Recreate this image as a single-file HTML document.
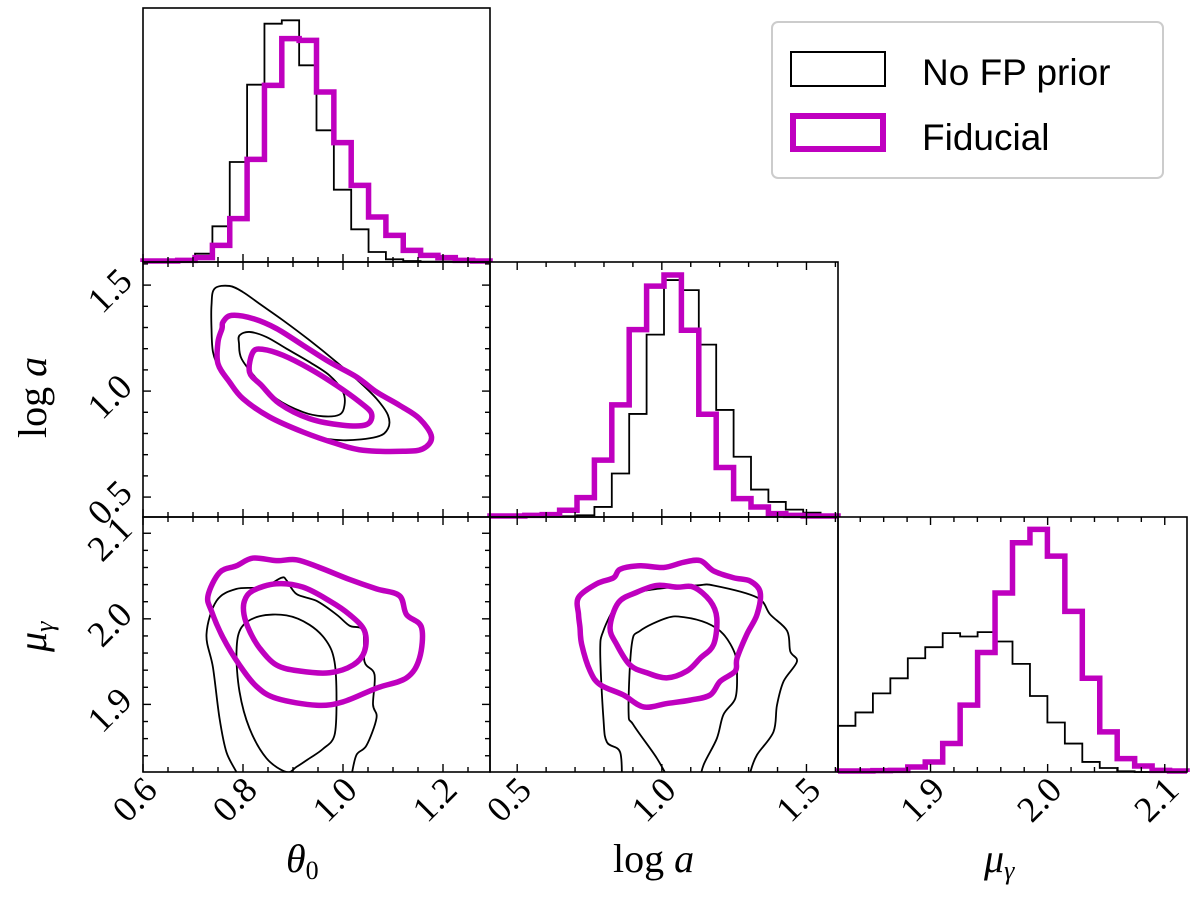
<!DOCTYPE html>
<html><head><meta charset="utf-8"><style>
html,body{margin:0;padding:0;background:#fff;}
svg{display:block;}
text{font-family:"Liberation Serif","DejaVu Serif",serif;fill:#000;}
</style></head><body>
<svg id="chart" width="1200" height="910" viewBox="0 0 1200 910" xmlns="http://www.w3.org/2000/svg">
<defs>
<clipPath id="c10"><rect x="143" y="262" width="347" height="255"/></clipPath>
<clipPath id="c20"><rect x="143" y="517" width="347" height="255"/></clipPath>
<clipPath id="c21"><rect x="490" y="517" width="348" height="255"/></clipPath>
</defs>
<g id="marks"></g>
<g id="axes"></g>
<g>
<rect x="772" y="22" width="391" height="156" rx="6" fill="#fff" stroke="#cccccc" stroke-width="2"/>
<rect x="791" y="52" width="94" height="34" fill="none" stroke="#000" stroke-width="2"/>
<text x="922" y="85" font-size="37" style="font-family:'Liberation Sans','DejaVu Sans',sans-serif">No FP prior</text>
<rect x="793" y="116" width="90" height="33" fill="none" stroke="#bf00bf" stroke-width="6"/>
<text x="922" y="150" font-size="37" style="font-family:'Liberation Sans','DejaVu Sans',sans-serif">Fiducial</text>
</g>
<text x="286" y="872" font-size="40" font-style="italic">θ<tspan font-size="26" dy="7" font-style="normal">0</tspan></text>
<text x="613" y="872" font-size="40">log <tspan font-style="italic">a</tspan></text>
<text x="984" y="872" font-size="40" font-style="italic">μ<tspan font-size="26" dy="7">γ</tspan></text>
<text transform="translate(46,438) rotate(-90)" font-size="40">log <tspan font-style="italic">a</tspan></text>
<text transform="translate(46,652) rotate(-90)" font-size="40" font-style="italic">μ<tspan font-size="26" dy="7">γ</tspan></text>
</svg>
<script>
// ---- data ----
const thetaDomain = [0.6, 1.294];
const logaDomain = [0.406, 1.609];
const muDomain = [1.821, 2.119];
const thetaTicks = [0.6, 0.8, 1.0, 1.2];
const thetaTickLabels = ["0.6", "0.8", "1.0", "1.2"];
const logaTicks = [0.5, 1.0, 1.5];
const logaTickLabels = ["0.5", "1.0", "1.5"];
const muTicks = [1.9, 2.0, 2.1];
const muTickLabels = ["1.9", "2.0", "2.1"];
const histMax = 762;
const histThetaNoFP = [2,3,5,25,107,300,532,715,725,590,395,217,98,30,8,3,1,1,0,0];
const histThetaFid = [3,3,5,13,50,130,308,530,670,665,510,358,230,135,80,35,20,13,5,3];
const histLogaNoFP = [2,2,2,2,2,5,30,130,308,545,708,678,515,320,180,82,45,22,13,5];
const histLogaFid = [3,3,5,7,20,58,170,335,560,690,723,558,307,148,55,30,10,5,3,3];
const histMuNoFP = [138,178,235,280,340,373,415,405,418,390,323,227,148,85,30,12,2,0,0,0];
const histMuFid = [3,3,4,5,15,30,85,200,357,535,685,725,645,480,280,120,40,18,5,3];
// contours: [x-values], [y-values]
const c10BlackOuterX = [0.743,0.773,0.8,0.833,0.88,0.933,0.987,1.033,1.067,1.09,1.09,1.067,1.0,0.933,0.867,0.813,0.78,0.753,0.74,0.737,0.737];
const c10BlackOuterY = [1.483,1.496,1.467,1.412,1.334,1.24,1.137,1.043,0.964,0.886,0.823,0.784,0.768,0.791,0.854,0.933,1.011,1.106,1.184,1.295,1.405];
const c10BlackInnerX = [0.793,0.813,0.847,0.887,0.933,0.973,1.0,1.003,0.993,0.96,0.92,0.867,0.827,0.797,0.792];
const c10BlackInnerY = [1.263,1.279,1.255,1.2,1.137,1.074,0.996,0.933,0.889,0.881,0.901,0.964,1.059,1.153,1.224];
const c10FidOuterX = [0.76,0.777,0.82,0.867,0.92,0.973,1.027,1.067,1.113,1.153,1.177,1.16,1.12,1.04,0.987,0.92,0.853,0.8,0.773,0.75,0.75,0.758];
const c10FidOuterY = [1.326,1.357,1.342,1.295,1.216,1.137,1.067,0.996,0.933,0.87,0.784,0.728,0.716,0.721,0.752,0.807,0.878,0.964,1.043,1.129,1.232,1.295];
const c10FidInnerX = [0.82,0.84,0.88,0.933,0.987,1.033,1.057,1.047,1.0,0.933,0.873,0.837,0.813];
const c10FidInnerY = [1.184,1.197,1.169,1.106,1.027,0.949,0.894,0.842,0.839,0.87,0.941,1.027,1.09];
const c20BlackOuterX = [0.79,0.79,0.767,0.753,0.74,0.727,0.747,0.787,0.84,0.877,0.887,0.907,0.947,0.987,1.013,1.04,1.043,1.063,1.06,1.067,1.047,1.027,1.017,1.013];
const c20BlackOuterY = [1.805,1.817,1.844,1.884,1.943,1.982,2.021,2.035,2.037,2.048,2.045,2.029,2.021,2.005,1.992,1.986,1.95,1.935,1.9,1.884,1.852,1.841,1.817,1.805];
const c20BlackInnerX = [0.887,0.847,0.813,0.793,0.787,0.797,0.833,0.887,0.933,0.967,0.983,0.987,0.983,0.96,0.933,0.907];
const c20BlackInnerY = [1.821,1.837,1.872,1.915,1.962,1.99,2.003,2.004,1.993,1.974,1.95,1.907,1.864,1.848,1.837,1.827];
const c20FidOuterX = [0.73,0.753,0.787,0.82,0.867,0.907,0.953,1.013,1.067,1.113,1.127,1.157,1.153,1.127,1.067,1.0,0.947,0.867,0.827,0.793,0.76,0.737];
const c20FidOuterY = [2.027,2.054,2.062,2.071,2.068,2.069,2.06,2.046,2.035,2.027,2.005,1.99,1.954,1.931,1.919,1.903,1.899,1.907,1.921,1.946,1.978,2.009];
const c20FidInnerX = [0.803,0.82,0.867,0.92,0.973,1.013,1.043,1.043,1.02,0.973,0.913,0.867,0.833,0.813,0.802];
const c20FidInnerY = [2.021,2.033,2.041,2.037,2.021,2.005,1.986,1.962,1.946,1.937,1.939,1.946,1.966,1.986,2.005];
const c21BlackOuterX = [0.862,0.856,0.81,0.798,0.787,0.798,0.844,0.89,0.983,1.121,1.179,1.329,1.375,1.433,1.444,1.467,1.421,1.398,1.386,1.329,1.306,1.3];
const c21BlackOuterY = [1.805,1.844,1.856,1.884,1.962,1.986,2.017,2.029,2.035,2.039,2.039,2.025,2.005,1.986,1.962,1.95,1.927,1.899,1.868,1.841,1.821,1.805];
const c21BlackInnerX = [1.035,0.983,0.902,0.885,0.896,0.925,1.017,1.075,1.156,1.213,1.254,1.26,1.254,1.213,1.19,1.144,1.127];
const c21BlackInnerY = [1.805,1.837,1.876,1.892,1.97,1.986,2.001,2.002,1.995,1.982,1.958,1.935,1.907,1.888,1.86,1.829,1.805];
const c21FidOuterX = [0.712,0.775,0.833,0.856,0.925,1.006,1.075,1.133,1.179,1.248,1.306,1.34,1.329,1.294,1.26,1.254,1.202,1.167,1.098,1.017,0.937,0.867,0.787,0.752,0.723,0.717,0.712];
const c21FidOuterY = [2.025,2.041,2.048,2.058,2.062,2.06,2.066,2.068,2.056,2.048,2.044,2.031,2.005,1.982,1.954,1.939,1.927,1.911,1.905,1.901,1.897,1.911,1.923,1.939,1.97,1.99,2.005];
const c21FidInnerX = [0.85,0.913,0.983,1.052,1.11,1.167,1.19,1.179,1.133,1.087,1.017,0.948,0.89,0.844,0.821];
const c21FidInnerY = [2.019,2.031,2.039,2.037,2.037,2.021,2.001,1.97,1.954,1.939,1.931,1.937,1.946,1.97,1.99];

// ---- helpers ----
const NS = "http://www.w3.org/2000/svg";
const marks = document.getElementById('marks');
const axesG = document.getElementById('axes');
function scale(d, r){ return v => r[0] + (v - d[0]) / (d[1] - d[0]) * (r[1] - r[0]); }
const PX = [[143,490],[490,838],[838,1187]];
const PY = [[8,262],[262,517],[517,772]];
const sxTheta = scale(thetaDomain, PX[0]);
const sxLoga = scale(logaDomain, PX[1]);
const sxMu = scale(muDomain, PX[2]);
const syLoga = scale(logaDomain, [PY[1][1], PY[1][0]]);
const syMu = scale(muDomain, [PY[2][1], PY[2][0]]);
function mk(tag, attrs, parent){ const e = document.createElementNS(NS, tag); for (const k in attrs) e.setAttribute(k, attrs[k]); (parent||marks).appendChild(e); return e; }

function hist(vals, domain, sx, row, color, w, name){
  const y0 = PY[row][1], h = PY[row][1]-PY[row][0];
  const n = vals.length, bw = (domain[1]-domain[0])/n;
  let d = `M${sx(domain[0])},${y0}`;
  vals.forEach((v,i)=>{ const y = y0 - v/histMax*h; d += ` L${sx(domain[0]+i*bw)},${y} L${sx(domain[0]+(i+1)*bw)},${y}`; });
  d += ` L${sx(domain[1])},${y0}`;
  const p = mk('path', {d, fill:'none', stroke:color, 'stroke-width':w, 'stroke-linejoin':'miter'});
  
  
}
function smooth(xs, ys, sx, sy, closed){
  const pts = xs.map((x,i)=>[sx(x), sy(ys[i])]);
  const n = pts.length;
  const get = i => closed ? pts[(i+n)%n] : pts[Math.max(0, Math.min(n-1, i))];
  let d = `M${pts[0][0]},${pts[0][1]}`;
  const last = closed ? n : n-1;
  for (let i=0;i<last;i++){
    const p0=get(i-1), p1=get(i), p2=get(i+1), p3=get(i+2);
    const c1=[p1[0]+(p2[0]-p0[0])/6, p1[1]+(p2[1]-p0[1])/6];
    const c2=[p2[0]-(p3[0]-p1[0])/6, p2[1]-(p3[1]-p1[1])/6];
    d += ` C${c1[0]},${c1[1]} ${c2[0]},${c2[1]} ${p2[0]},${p2[1]}`;
  }
  if (closed) d += ' Z';
  return d;
}
function contour(xs, ys, sx, sy, closed, clip, color, w, name){
  const p = mk('path', {d: smooth(xs, ys, sx, sy, closed), fill:'none', stroke:color, 'stroke-width':w, 'clip-path':`url(#${clip})`});
  
  
}
const BK = '#000', MG = '#bf00bf';
hist(histThetaNoFP, thetaDomain, sxTheta, 0, BK, 1.8, 'hist-theta0-no-fp-prior');
hist(histThetaFid, thetaDomain, sxTheta, 0, MG, 5.5, 'hist-theta0-fiducial');
hist(histLogaNoFP, logaDomain, sxLoga, 1, BK, 1.8, 'hist-log-a-no-fp-prior');
hist(histLogaFid, logaDomain, sxLoga, 1, MG, 5.5, 'hist-log-a-fiducial');
hist(histMuNoFP, muDomain, sxMu, 2, BK, 1.8, 'hist-mu-gamma-no-fp-prior');
hist(histMuFid, muDomain, sxMu, 2, MG, 5.5, 'hist-mu-gamma-fiducial');
contour(c10BlackOuterX, c10BlackOuterY, sxTheta, syLoga, true, 'c10', BK, 1.8, 'contour-theta0-loga-no-fp-outer');
contour(c10BlackInnerX, c10BlackInnerY, sxTheta, syLoga, true, 'c10', BK, 1.8, 'contour-theta0-loga-no-fp-inner');
contour(c10FidOuterX, c10FidOuterY, sxTheta, syLoga, true, 'c10', MG, 5.5, 'contour-theta0-loga-fiducial-outer');
contour(c10FidInnerX, c10FidInnerY, sxTheta, syLoga, true, 'c10', MG, 5.5, 'contour-theta0-loga-fiducial-inner');
contour(c20BlackOuterX, c20BlackOuterY, sxTheta, syMu, false, 'c20', BK, 1.8, 'contour-theta0-mu-no-fp-outer');
contour(c20BlackInnerX, c20BlackInnerY, sxTheta, syMu, true, 'c20', BK, 1.8, 'contour-theta0-mu-no-fp-inner');
contour(c20FidOuterX, c20FidOuterY, sxTheta, syMu, true, 'c20', MG, 5.5, 'contour-theta0-mu-fiducial-outer');
contour(c20FidInnerX, c20FidInnerY, sxTheta, syMu, true, 'c20', MG, 5.5, 'contour-theta0-mu-fiducial-inner');
contour(c21BlackOuterX, c21BlackOuterY, sxLoga, syMu, false, 'c21', BK, 1.8, 'contour-loga-mu-no-fp-outer');
contour(c21BlackInnerX, c21BlackInnerY, sxLoga, syMu, false, 'c21', BK, 1.8, 'contour-loga-mu-no-fp-inner');
contour(c21FidOuterX, c21FidOuterY, sxLoga, syMu, true, 'c21', MG, 5.5, 'contour-loga-mu-fiducial-outer');
contour(c21FidInnerX, c21FidInnerY, sxLoga, syMu, true, 'c21', MG, 5.5, 'contour-loga-mu-fiducial-inner');

// ---- axes ----
function frame(c, r){
  const e = mk('rect', {x:PX[c][0], y:PY[r][0], width:PX[c][1]-PX[c][0], height:PY[r][1]-PY[r][0], fill:'none', stroke:'#000', 'stroke-width':1.6}, axesG);
  
  
}
function range(a,b,step){ const o=[]; for(let v=a; v<=b+1e-9; v+=step) o.push(+v.toFixed(4)); return o; }
function xticks(c, r, sx, domain, minorStep, majors){
  const yb = PY[r][1], yt = PY[r][0];
  range(Math.ceil(domain[0]/minorStep)*minorStep, domain[1], minorStep).forEach(v=>{
    const x = sx(v); const major = majors.some(m=>Math.abs(m-v)<1e-6); const L = major?8:5;
    mk('line', {x1:x, x2:x, y1:yb, y2:yb-L, stroke:'#000', 'stroke-width':1.4}, axesG);
    if (r>0) mk('line', {x1:x, x2:x, y1:yt, y2:yt+L, stroke:'#000', 'stroke-width':1.4}, axesG);
  });
}
function yticks(c, r, sy, domain, minorStep, majors){
  const xl = PX[c][0], xr = PX[c][1];
  range(Math.ceil(domain[0]/minorStep)*minorStep, domain[1], minorStep).forEach(v=>{
    const y = sy(v); const major = majors.some(m=>Math.abs(m-v)<1e-6); const L = major?8:5;
    mk('line', {x1:xl, x2:xl+L, y1:y, y2:y, stroke:'#000', 'stroke-width':1.4}, axesG);
    mk('line', {x1:xr, x2:xr-L, y1:y, y2:y, stroke:'#000', 'stroke-width':1.4}, axesG);
  });
}
[[0,0],[0,1],[1,1],[0,2],[1,2],[2,2]].forEach(([c,r])=>frame(c,r));
xticks(0,0,sxTheta,thetaDomain,0.05,thetaTicks);
xticks(0,1,sxTheta,thetaDomain,0.05,thetaTicks);
xticks(0,2,sxTheta,thetaDomain,0.05,thetaTicks);
xticks(1,1,sxLoga,logaDomain,0.1,logaTicks);
xticks(1,2,sxLoga,logaDomain,0.1,logaTicks);
xticks(2,2,sxMu,muDomain,0.02,muTicks);
yticks(0,1,syLoga,logaDomain,0.1,logaTicks);
yticks(0,2,syMu,muDomain,0.02,muTicks);

function xlabels(ticks, labels, sx, name){
  ticks.forEach((v,i)=>{
    const x = sx(v) + 16, y = 792;
    const t = mk('text', {x, y, 'font-size':36, 'text-anchor':'end', transform:`rotate(-45 ${x} ${y})`}, axesG);
    t.textContent = labels[i];
    
    
  });
}
function ylabels(ticks, labels, sy, name){
  ticks.forEach((v,i)=>{
    const x = 134, y = sy(v) - 2;
    const t = mk('text', {x, y, 'font-size':36, 'text-anchor':'end', transform:`rotate(-45 ${x} ${y})`}, axesG);
    t.textContent = labels[i];
    
    
  });
}
xlabels(thetaTicks, thetaTickLabels, sxTheta, 'x-tick-label-theta0');
xlabels(logaTicks, logaTickLabels, sxLoga, 'x-tick-label-log-a');
xlabels(muTicks, muTickLabels, sxMu, 'x-tick-label-mu-gamma');
ylabels(logaTicks, logaTickLabels, syLoga, 'y-tick-label-log-a');
ylabels(muTicks, muTickLabels, syMu, 'y-tick-label-mu-gamma');
</script>
</body></html>
